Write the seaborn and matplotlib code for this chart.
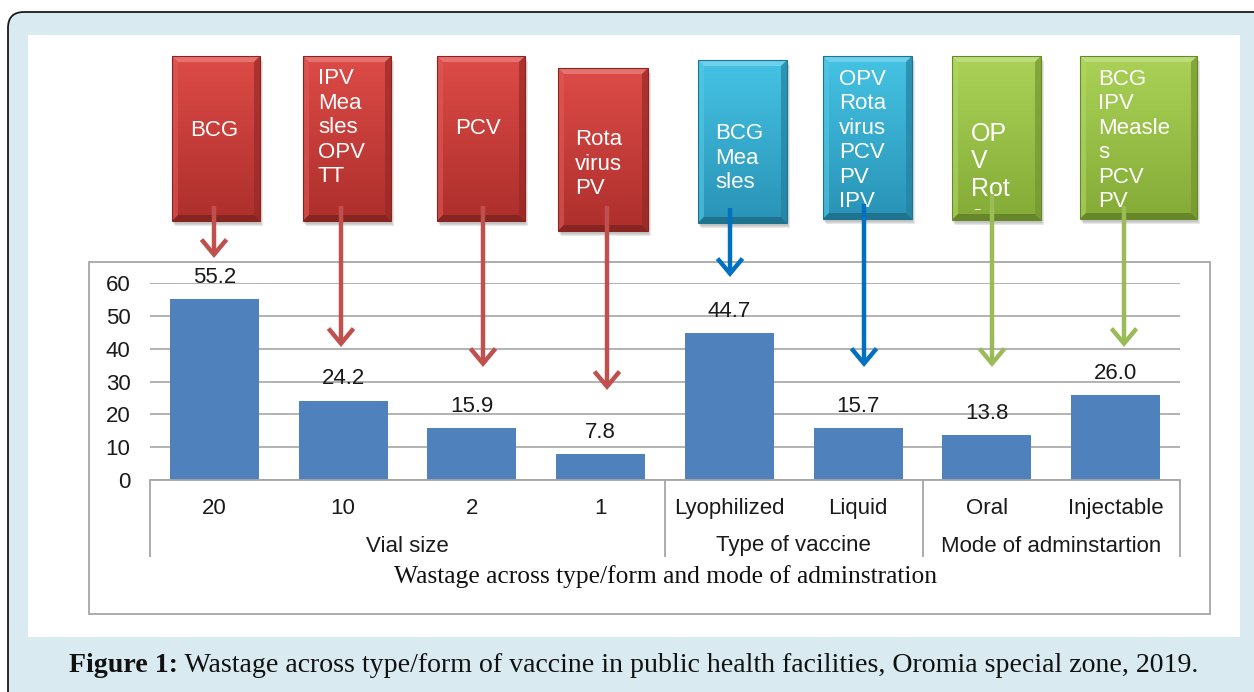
import numpy as np
import pandas as pd
import matplotlib
matplotlib.use('Agg')
import matplotlib.pyplot as plt
import seaborn as sns
from matplotlib.patches import FancyBboxPatch, Rectangle, Polygon, FancyArrowPatch
from matplotlib.colors import to_rgb
from matplotlib.transforms import blended_transform_factory

# ---------------- data ----------------
categories = ['20', '10', '2', '1', 'Lyophilized', 'Liquid', 'Oral', 'Injectable']
wastage = [55.2, 24.2, 15.9, 7.8, 44.7, 15.7, 13.8, 26.0]
group_names = ['Vial size', 'Type of vaccine', 'Mode of adminstartion']
group_sizes = [4, 2, 2]
y_ticks = [0, 10, 20, 30, 40, 50, 60]
box_texts = ['BCG', 'IPV\nMea\nsles\nOPV\nTT', 'PCV', 'Rota\nvirus\nPV',
             'BCG\nMea\nsles', 'OPV\nRota\nvirus\nPCV\nPV\nIPV',
             'OP\nV\nRot\na', 'BCG\nIPV\nMeasle\ns\nPCV\nPV']
box_groups = ['red', 'red', 'red', 'red', 'blue', 'blue', 'green', 'green']
x_title = 'Wastage across type/form and mode of adminstration'
caption_bold = 'Figure 1:'
caption_text = 'Wastage across type/form of vaccine in public health facilities, Oromia special zone, 2019.'

# ---------------- style / layout ----------------
W, H = 1254, 692
sns.set_theme(style='white')
plt.rcParams['font.family'] = ['Liberation Sans', 'DejaVu Sans']

palette = {
    'red':   dict(top='#dd4b47', bottom='#ad2f2c', arrow='#c0504d', edge='#8a2421'),
    'blue':  dict(top='#45c3e4', bottom='#2993b6', arrow='#0070c0', edge='#1d7392'),
    'green': dict(top='#abd257', bottom='#84ab36', arrow='#9bbb59', edge='#678a28'),
}
# x0, x1, y0, y1, first line centre y, text left x, line spacing, font size, arrow start y, arrow tip y, arrow x
box_layout = [
    (172, 260, 56, 221, 128, 190, 24.6, 16, 206, 258, 214),
    (303, 391, 56, 221, 76, 318, 24.6, 16, 206, 347, 341),
    (437, 525, 56, 221, 126, 455, 24.6, 16, 206, 367, 483),
    (558, 648, 68, 231, 137, 575, 24.6, 16, 206, 390, 607),
    (698, 787, 60, 223, 131, 715, 24.6, 16, 208, 277, 730),
    (823, 912, 56, 219, 77, 839, 24.4, 16, 204, 367, 864),
    (952, 1041, 56, 220, 132, 971, 27.5, 18, 194, 367, 992),
    (1080, 1197, 56, 219, 77, 1098, 24.4, 16, 206, 347, 1124),
]
label_fs = 16

fig = plt.figure(figsize=(W / 100, H / 100), dpi=100, facecolor='white')

# ---------- background layer ----------
bg = fig.add_axes([0, 0, 1, 1])
bg.set_xlim(0, W)
bg.set_ylim(H, 0)
bg.axis('off')
bg.set_zorder(0)
bg.add_patch(FancyBboxPatch((8, 12), 1320, 760, boxstyle='round,pad=0,rounding_size=16',
                            fc='#d9ebf1', ec='#1a1a1a', lw=1.3))
bg.add_patch(Rectangle((28, 35), 1212, 602, fc='white', ec='none'))
bg.add_patch(Rectangle((89, 262), 1121, 352, fc='none', ec='#a6a6a6', lw=1.3))

# caption (fit to reference width)
cap_fs = 17.5
fig.canvas.draw()
rend = fig.canvas.get_renderer()
def caption(fs):
    t1 = bg.text(0, 666, caption_bold, fontsize=fs, fontweight='bold',
                 family='Liberation Serif', va='center', ha='left', color='#111111')
    t2 = bg.text(0, 666, ' ' + caption_text, fontsize=fs, family='Liberation Serif',
                 va='center', ha='left', color='#111111')
    w1 = t1.get_window_extent(rend).width
    w2 = t2.get_window_extent(rend).width
    return t1, t2, w1, w2
t1, t2, w1, w2 = caption(cap_fs)
t1.remove(); t2.remove()
cap_fs = cap_fs * 1128 / (w1 + w2)
t1, t2, w1, w2 = caption(cap_fs)
start = 634 - (w1 + w2) / 2
t1.set_x(start)
t2.set_x(start + w1)

# ---------- bar chart ----------
ax = fig.add_axes([150 / W, 1 - 480 / H, 1030 / W, 197 / H])
ax.set_zorder(1)
ax.patch.set_alpha(0)
df = pd.DataFrame({'category': categories, 'wastage': wastage})
sns.barplot(data=df, x='category', y='wastage', color='#4f81bd', saturation=1,
            width=0.69, edgecolor='none', ax=ax, order=categories)
ax.set_xlim(-0.5, len(categories) - 0.5)
ax.set_ylim(0, 60)
ax.set_yticks(y_ticks)
ax.yaxis.grid(True, color='#a6a6a6', lw=1.2)
ax.xaxis.grid(False)
ax.set_axisbelow(True)
for s in ['top', 'right', 'left']:
    ax.spines[s].set_visible(False)
ax.spines['bottom'].set_color('#a6a6a6')
ax.spines['bottom'].set_linewidth(1.3)
ax.tick_params(axis='both', length=0, labelsize=label_fs, labelcolor='#1a1a1a')
ax.tick_params(axis='y', pad=14)
ax.tick_params(axis='x', pad=13)
ax.set_xlabel('')
ax.set_ylabel('')
ax.bar_label(ax.containers[0], labels=[f'{v:.1f}' for v in wastage], padding=8,
             fontsize=label_fs, color='#1a1a1a')

# group separators and group labels
trans = blended_transform_factory(ax.transData, ax.transAxes)
bounds = np.concatenate([[0], np.cumsum(group_sizes)]) - 0.5
sep_bottom = -(557 - 480) / 197
for b in bounds:
    ax.plot([b, b], [0, sep_bottom], transform=trans, color='#a6a6a6', lw=1.3,
            clip_on=False, solid_capstyle='butt')
for name, lo, hi in zip(group_names, bounds[:-1], bounds[1:]):
    ax.text((lo + hi) / 2, -(546 - 480) / 197, name, transform=trans, ha='center',
            va='center', fontsize=label_fs, color='#1a1a1a')

# axis title (serif)
tt_fs = 15.5
tt = ax.text(0.5, -(577 - 480) / 197, x_title, transform=ax.transAxes, ha='center',
             va='center', fontsize=tt_fs, family='Liberation Serif', color='#111111')
wt = tt.get_window_extent(rend).width
tt.set_fontsize(tt_fs * 543 / wt)
tt.set_x((666 - 150) / 1030)

# ---------- boxes and arrows ----------
ov = fig.add_axes([0, 0, 1, 1])
ov.set_xlim(0, W)
ov.set_ylim(H, 0)
ov.axis('off')
ov.set_zorder(2)
ov.patch.set_alpha(0)

def mix(c, other, a):
    c = np.array(to_rgb(c)); o = np.array(to_rgb(other))
    return tuple(c * (1 - a) + o * a)

for txt, grp, lay in zip(box_texts, box_groups, box_layout):
    x0, x1, y0, y1, cy, tx, sp, fs, ay0, ay1, axx = lay
    pal = palette[grp]
    # shadow
    for k, al in enumerate([0.10, 0.10, 0.12]):
        ov.add_patch(Rectangle((x0 + 1 + k, y0 + 3 + k), x1 - x0, y1 - y0,
                               fc='#404040', ec='none', alpha=al, zorder=1))
    # gradient body
    n = 64
    top = np.array(to_rgb(pal['top'])); bot = np.array(to_rgb(pal['bottom']))
    t = np.linspace(0, 1, n)[:, None]
    grad = (top * (1 - t) + bot * t)[:, None, :]
    ov.imshow(grad, extent=[x0, x1, y1, y0], aspect='auto', zorder=2,
              interpolation='bilinear')
    b = 6
    ov.add_patch(Polygon([(x0, y0), (x1, y0), (x1 - b, y0 + b), (x0 + b, y0 + b)],
                         fc=mix(pal['top'], 'white', 0.22), ec='none', zorder=3))
    ov.add_patch(Polygon([(x0, y0), (x0 + b, y0 + b), (x0 + b, y1 - b), (x0, y1)],
                         fc=mix(pal['top'], 'white', 0.08), ec='none', alpha=0.6, zorder=3))
    ov.add_patch(Polygon([(x1, y0), (x1 - b, y0 + b), (x1 - b, y1 - b), (x1, y1)],
                         fc=mix(pal['bottom'], 'black', 0.12), ec='none', alpha=0.7, zorder=3))
    ov.add_patch(Polygon([(x0, y1), (x0 + b, y1 - b), (x1 - b, y1 - b), (x1, y1)],
                         fc=mix(pal['bottom'], 'black', 0.22), ec='none', zorder=3))
    ov.add_patch(Rectangle((x0, y0), x1 - x0, y1 - y0, fc='none', ec=pal['edge'],
                           lw=0.8, zorder=3))
    clip = Rectangle((x0, y0), x1 - x0, y1 - y0 - 10, transform=ov.transData)
    cap_half = 0.716 * fs * 100 / 72 / 2
    for i, line in enumerate(txt.split('\n')):
        tl = ov.text(tx, cy + i * sp + cap_half, line, color='white', fontsize=fs,
                     ha='left', va='baseline', zorder=4)
        tl.set_clip_on(True)
        tl.set_clip_path(clip)
    arr = FancyArrowPatch((axx, ay0), (axx, ay1),
                          arrowstyle='->,head_length=0.6,head_width=0.5',
                          mutation_scale=18, color=pal['arrow'], lw=3.2,
                          shrinkA=0, shrinkB=0, zorder=5, capstyle='butt',
                          joinstyle='miter')
    ov.add_patch(arr)

fig.savefig('out.png', dpi=100, facecolor='white')
